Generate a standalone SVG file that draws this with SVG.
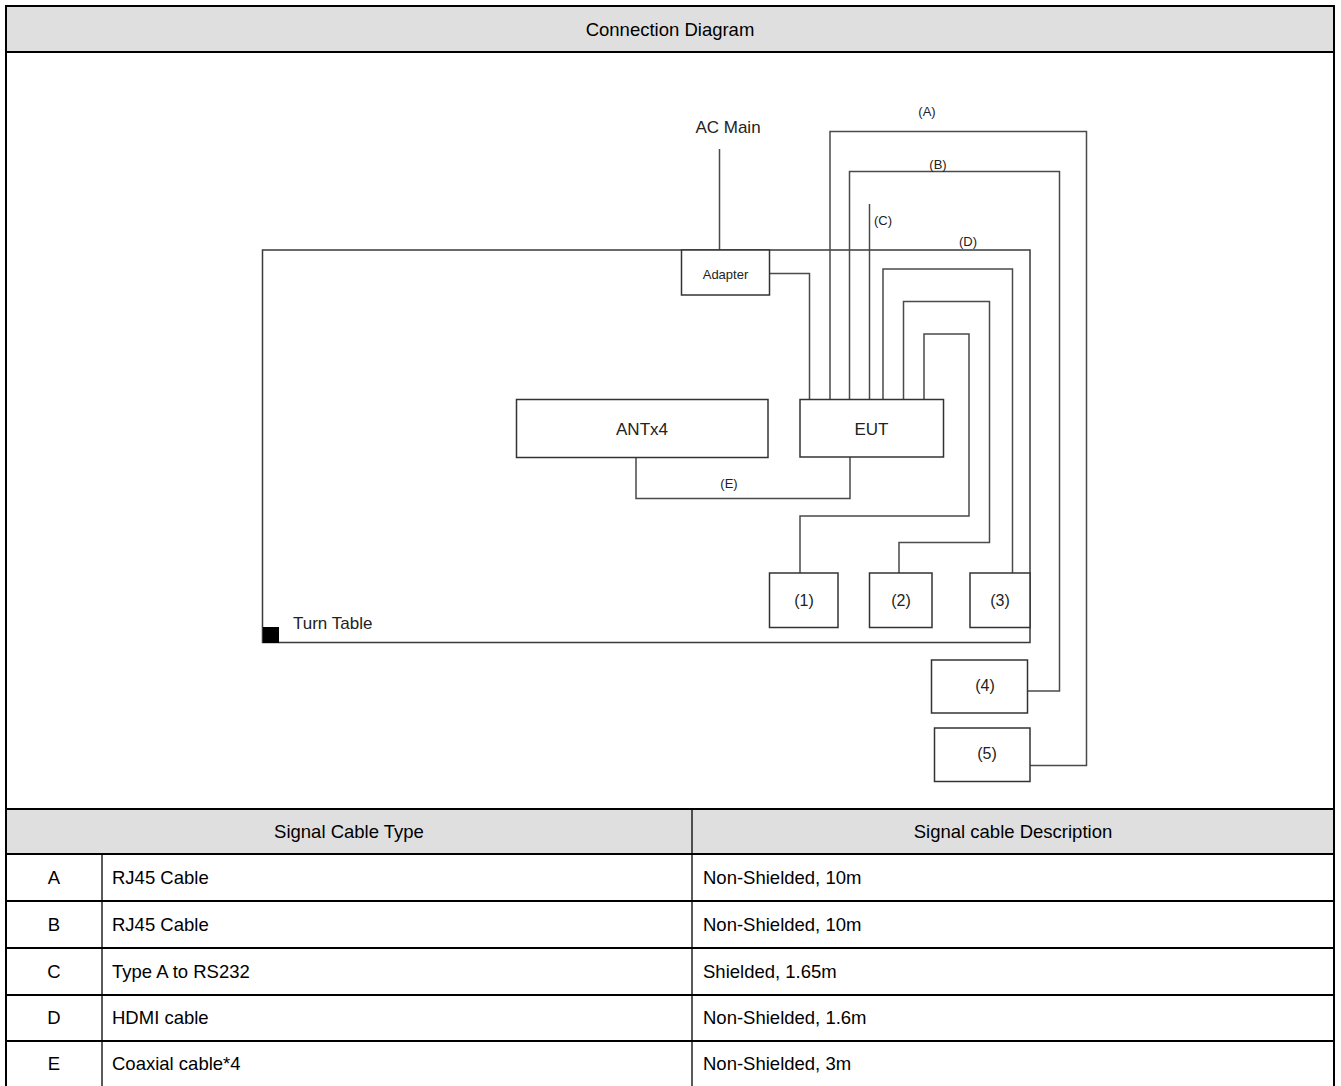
<svg xmlns="http://www.w3.org/2000/svg" width="1341" height="1086" viewBox="0 0 1341 1086">
<style>
.t{font-family:"Liberation Sans",Arial,sans-serif;fill:#000}
.tb{font-size:18.5px}
.d{font-family:"Liberation Sans",Arial,sans-serif;fill:#222}
.box{fill:#fff;stroke:#333;stroke-width:1.5}
.cn{fill:none;stroke:#4a4a4a;stroke-width:1.5}
.grid{stroke:#000;stroke-width:2;fill:none}
.vgrid{stroke:#000;stroke-width:1.3}
</style>
<rect width="1341" height="1086" fill="#fff"/>
<g id="table">
<rect x="6" y="6" width="1328" height="46" fill="#dfdfdf"/>
<rect x="6" y="809" width="1328" height="45" fill="#dfdfdf"/>
<rect x="6" y="6" width="1328" height="1082" class="grid"/>
<line x1="6" y1="52" x2="1334" y2="52" class="grid"/>
<line x1="6" y1="809" x2="1334" y2="809" class="grid"/>
<line x1="6" y1="854" x2="1334" y2="854" class="grid"/>
<line x1="6" y1="901" x2="1334" y2="901" class="grid"/>
<line x1="6" y1="948" x2="1334" y2="948" class="grid"/>
<line x1="6" y1="995" x2="1334" y2="995" class="grid"/>
<line x1="6" y1="1041" x2="1334" y2="1041" class="grid"/>
<line x1="692" y1="809" x2="692" y2="1088" class="vgrid"/>
<line x1="102" y1="854" x2="102" y2="1088" class="vgrid"/>
<text class="t tb" x="670" y="36" text-anchor="middle">Connection Diagram</text>
<text class="t tb" x="349" y="838" text-anchor="middle">Signal Cable Type</text>
<text class="t tb" x="1013" y="838" text-anchor="middle">Signal cable Description</text>
<g text-anchor="middle" class="t tb">
<text x="54" y="884">A</text>
<text x="54" y="931">B</text>
<text x="54" y="978">C</text>
<text x="54" y="1024">D</text>
<text x="54" y="1070">E</text>
</g>
<g class="t tb">
<text x="112" y="884">RJ45 Cable</text>
<text x="112" y="931">RJ45 Cable</text>
<text x="112" y="978">Type A to RS232</text>
<text x="112" y="1024">HDMI cable</text>
<text x="112" y="1070">Coaxial cable*4</text>
<text x="703" y="884">Non-Shielded, 10m</text>
<text x="703" y="931">Non-Shielded, 10m</text>
<text x="703" y="978">Shielded, 1.65m</text>
<text x="703" y="1024">Non-Shielded, 1.6m</text>
<text x="703" y="1070">Non-Shielded, 3m</text>
</g>
</g>
<g id="turntable">
<rect x="262.5" y="250" width="767.5" height="392.5" fill="none" stroke="#3a3a3a" stroke-width="1.5"/>
<rect x="263" y="627" width="16" height="16" fill="#000"/>
<text class="d" x="293" y="629" font-size="17">Turn Table</text>
</g>
<g id="connectors">
<path class="cn" d="M719.5 149V250"/>
<path class="cn" d="M769 273.5H809.5V399.5"/>
<path class="cn" d="M830 399.5V131.5H1086.5V765.5H1029"/>
<path class="cn" stroke="#111" d="M849.5 399.5V171.5H1059.5V691H1027.5"/>
<path class="cn" stroke="#111" d="M869.5 399.5V204"/>
<path class="cn" d="M883 399.5V269H1012.5V573"/>
<path class="cn" d="M903.5 399.5V301.5H989.5V542.5H899V573"/>
<path class="cn" d="M924 399.5V334H969V516H800V573"/>
<path class="cn" d="M850 457V498.5H636V457.5"/>
<g class="d" font-size="13" text-anchor="middle">
<text x="927" y="116">(A)</text>
<text x="938" y="169">(B)</text>
<text x="883" y="225">(C)</text>
<text x="968" y="246">(D)</text>
<text x="729" y="488">(E)</text>
</g>
</g>
<g id="acmain"><text class="d" x="728" y="133" font-size="17" text-anchor="middle">AC Main</text></g>
<g id="adapter"><rect class="box" x="681.5" y="250" width="88" height="45"/><text class="d" x="725.5" y="278.5" font-size="13" text-anchor="middle">Adapter</text></g>
<g id="ant"><rect class="box" x="516.5" y="399.5" width="251.5" height="58"/><text class="d" x="642" y="434.5" font-size="17" text-anchor="middle">ANTx4</text></g>
<g id="eut"><rect class="box" x="800" y="399.5" width="143.5" height="57.5"/><text class="d" x="871.5" y="434.5" font-size="17" text-anchor="middle">EUT</text></g>
<g id="p1"><rect class="box" x="769.5" y="573" width="68.5" height="54.5"/><text class="d" x="804" y="606" font-size="16" text-anchor="middle">(1)</text></g>
<g id="p2"><rect class="box" x="869.5" y="573" width="62.5" height="54.5"/><text class="d" x="901" y="606" font-size="16" text-anchor="middle">(2)</text></g>
<g id="p3"><rect class="box" x="970" y="573" width="60" height="54.5"/><text class="d" x="1000" y="606" font-size="16" text-anchor="middle">(3)</text></g>
<g id="p4"><rect class="box" x="931.5" y="660" width="96" height="53"/><text class="d" x="985" y="691" font-size="16" text-anchor="middle">(4)</text></g>
<g id="p5"><rect class="box" x="934.5" y="728" width="95.5" height="53.5"/><text class="d" x="987" y="759" font-size="16" text-anchor="middle">(5)</text></g>
</svg>
